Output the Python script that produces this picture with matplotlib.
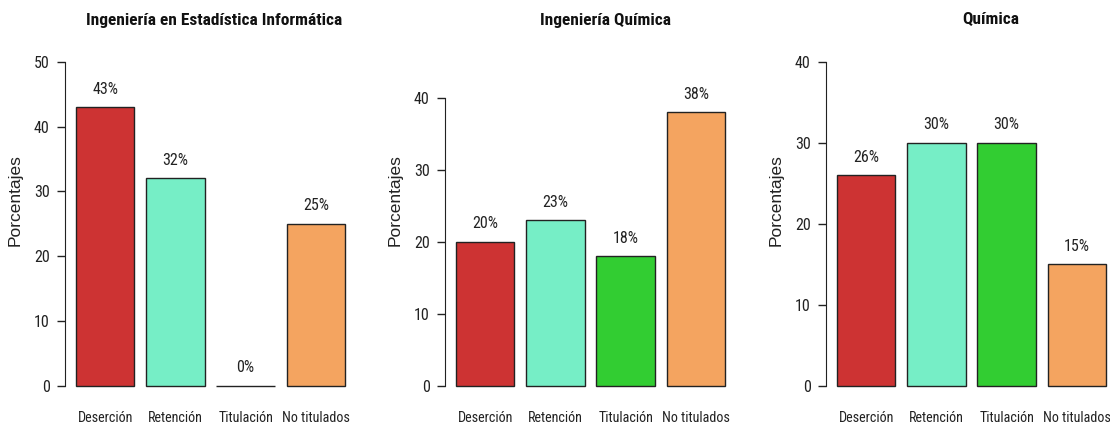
import numpy as np
import matplotlib
matplotlib.use("Agg")
import matplotlib.pyplot as plt
from matplotlib import font_manager

categorias = ["Deserción", "Retención", "Titulación", "No titulados"]
titulos = ["Ingeniería en Estadística Informática", "Ingeniería Química", "Química"]
estadistica = [43, 32, 0, 25]
ing_quimica = [20, 23, 18, 38]
quimica = [26, 30, 30, 15]
ylims = [50, 45, 40]
yticks = [[0, 10, 20, 30, 40, 50], [0, 10, 20, 30, 40], [0, 10, 20, 30, 40]]
colores = ["#CD3333", "#76EEC6", "#32CD32", "#F4A460"]

series = [estadistica, ing_quimica, quimica]

# buscar una fuente estrecha (como Arial Narrow en R)
fuentes = {(f.name, f.stretch) for f in font_manager.fontManager.ttflist}
narrow = None
for nombre in ["Liberation Sans Narrow", "Roboto Condensed", "Open Sans Condensed"]:
    if any(n == nombre for n, s in fuentes):
        narrow = dict(family=nombre)
        break
if narrow is None:
    if any(n == "DejaVu Sans" and s in ("condensed", "semi-condensed") for n, s in fuentes):
        narrow = dict(family="DejaVu Sans", stretch="condensed")
escala = 1.0
if narrow is None:
    narrow = dict(family="Liberation Sans")
    escala = 0.8

W, H = 1110, 423
fig = plt.figure(figsize=(W / 100, H / 100), dpi=100)

lefts = [65, 445, 826]
title_x = [214, 606, 991]
top_px, bot_px = 49, 398.5

x = np.arange(4) * 1.2 + 0.7

for i, vals in enumerate(series):
    ax = fig.add_axes([lefts[i] / W, 1 - bot_px / H, 291 / W, (bot_px - top_px) / H])
    ax.bar(x, vals, width=1.0, color=colores, edgecolor="#222222", linewidth=1.0)
    for xi, v in zip(x, vals):
        ax.annotate(f"{v}%", (xi, v), xytext=(0, 13), textcoords="offset points",
                    ha="center", va="center", fontsize=11.5 * escala, color="#222222", **narrow)
    R = ylims[i]
    ax.set_ylim(-0.04 * R, 1.04 * R)
    ax.set_xlim(0.016, 4.984)
    ax.set_yticks(yticks[i])
    ax.set_yticklabels([str(t) for t in yticks[i]], fontsize=11.5 * escala, **narrow)
    ax.set_xticks(x)
    ax.set_xticklabels(categorias, fontsize=10.2 * escala, **narrow)
    for s in ["top", "right", "bottom"]:
        ax.spines[s].set_visible(False)
    ax.spines["left"].set_bounds(0, yticks[i][-1])
    ax.spines["left"].set_color("#222222")
    ax.tick_params(axis="x", length=0, pad=9, colors="#222222")
    ax.tick_params(axis="y", length=6, width=1, pad=5, colors="#222222")
    ax.set_ylabel("Porcentajes", family="Liberation Sans", fontsize=12.5, labelpad=8,
                  y=0.568, color="#222222")
    ax.patch.set_visible(False)
    fig.text(title_x[i] / W, 1 - 20 / H, titulos[i], ha="center", va="center",
             fontsize=12.5 * escala, fontweight="bold", color="#111111", **narrow)

fig.savefig("out.png", dpi=100)
